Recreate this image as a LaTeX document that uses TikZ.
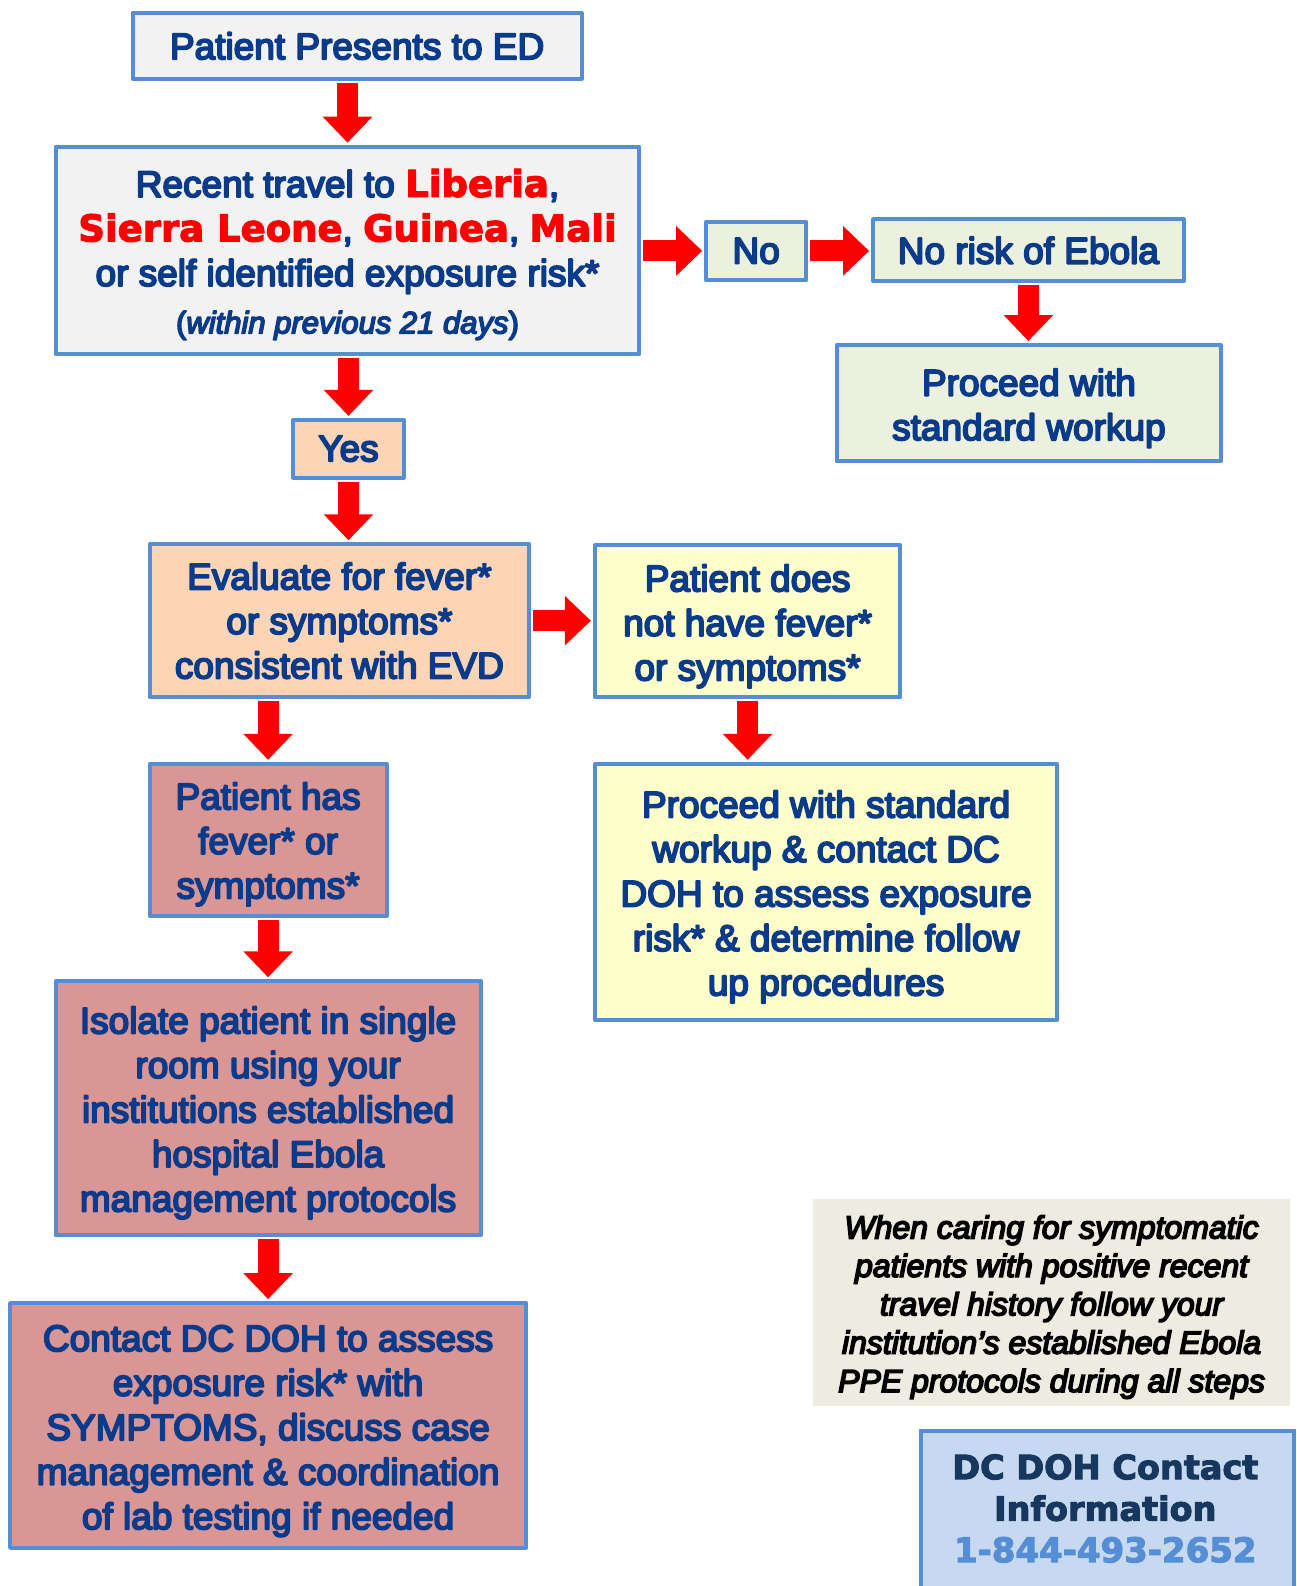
\documentclass[tikz,border=0pt]{standalone}
\usepackage{fontspec}
\usetikzlibrary{arrows.meta}
\setmainfont{Liberation Sans}
\newfontfamily\navyfont[FakeBold=5]{Liberation Sans}
\newfontfamily\navyitfont[FakeBold=5]{Liberation Sans Italic}
\newfontfamily\heavyfont[FakeBold=3]{DejaVu Sans Bold}
\definecolor{bordc}{HTML}{558ED5}
\definecolor{navy}{HTML}{0A3A8A}
\definecolor{grayf}{HTML}{F2F2F2}
\definecolor{greenf}{HTML}{EBF1DE}
\definecolor{peachf}{HTML}{FBD5B5}
\definecolor{yellowf}{HTML}{FFFFCC}
\definecolor{rosef}{HTML}{D99694}
\definecolor{notef}{HTML}{EEECE1}
\definecolor{dcf}{HTML}{C6D9F1}
\definecolor{dctext}{HTML}{17375E}
\newcommand{\redw}[1]{{\color{red}\heavyfont\fontsize{37}{44.5}\selectfont #1}}
\begin{document}
\begin{tikzpicture}[x=1pt,y=-1pt,
  box/.style={draw=bordc, line width=4pt, line join=round, inner sep=0pt, align=center, text=navy,
    font={\navyfont\fontsize{37}{44.5}\selectfont}},
  bigarrow/.style={draw=red, line width=21pt, -{Triangle[width=48pt,length=26pt]},
    shorten <=2pt, shorten >=2pt}]
\useasboundingbox (0,0) rectangle (1297,1586);
\clip (0,0) rectangle (1297,1586);

\node[box, fill=grayf, minimum width=449pt, minimum height=65.7pt] (b1) at (357.1,46) {Patient Presents to ED};
\node[box, fill=grayf, minimum width=583.8pt, minimum height=207.4pt] (b2) at (347.5,250.4)
  {\rule{0pt}{36pt}Recent travel to \redw{Liberia},\\ \redw{Sierra Leone}, \redw{Guinea}, \redw{Mali}\\ or self identified exposure risk*\\[3pt]
   {\fontsize{31}{44.5}\selectfont(\navyitfont within previous 21 days\navyfont)}};
\node[box, fill=greenf, minimum width=100pt, minimum height=58.6pt] (no) at (756.2,250.9) {No};
\node[box, fill=greenf, minimum width=310.6pt, minimum height=61.8pt] (norisk) at (1028.4,250.4) {No risk of Ebola};
\node[box, fill=greenf, minimum width=384.4pt, minimum height=116.3pt] (p1) at (1028.9,403.2) {\rule{0pt}{37pt}Proceed with\\ standard workup};
\node[box, fill=peachf, minimum width=110.3pt, minimum height=57.6pt] (yes) at (348.5,448.7) {Yes};
\node[box, fill=peachf, minimum width=379.4pt, minimum height=152.8pt] (ev) at (339.4,620.7) {Evaluate for fever*\\ or symptoms*\\ consistent with EVD};
\node[box, fill=yellowf, minimum width=305.5pt, minimum height=151.8pt] (pd) at (747.6,621.2) {\rule{0pt}{37pt}Patient does\\ not have fever*\\ or symptoms*};
\node[box, fill=yellowf, minimum width=462.3pt, minimum height=256pt] (p2) at (826.1,891.8)
  {\rule{0pt}{37pt}Proceed with standard\\ workup \& contact DC\\ DOH to assess exposure\\ risk* \& determine follow\\ up procedures};
\node[box, fill=rosef, minimum width=236.8pt, minimum height=151.8pt] (ph) at (268.1,839.7) {\rule{0pt}{36pt}Patient has\\ fever* or\\ symptoms*};
\node[box, fill=rosef, minimum width=425pt, minimum height=254pt] (iso) at (268.1,1108.3)
  {\rule{0pt}{36pt}Isolate patient in single\\ room using your\\ institutions established\\ hospital Ebola\\ management protocols};
\node[box, fill=rosef, minimum width=516pt, minimum height=244.8pt] (ct) at (268.1,1425.5)
  {\rule{0pt}{37pt}Contact DC DOH to assess\\ exposure risk* with\\ SYMPTOMS, discuss case\\ management \& coordination\\ of lab testing if needed};
\node[fill=notef, minimum width=476.5pt, minimum height=207.4pt, inner sep=0pt, align=center,
  font={\navyitfont\fontsize{32}{38.4}\selectfont}] (note) at (1051.6,1302.6)
  {\rule{0pt}{32pt}When caring for symptomatic\\ patients with positive recent\\ travel history follow your\\ institution’s established Ebola\\ PPE protocols during all steps};
\node[draw=bordc, line width=4pt, fill=dcf, minimum width=373.4pt, minimum height=200pt, inner sep=0pt, anchor=north west] (dc) at (918.6,1428.5) {};
\node[align=center, inner sep=0pt, text=dctext, font={\heavyfont\fontsize{33.5}{41.5}\selectfont}] (dctxt) at (1105.3,1508.5)
  {DC DOH Contact\\ Information\\ {\color{bordc}\fontsize{34}{41.5}\selectfont 1-844-493-2652}};

\draw[bigarrow] (b2.north |- b1.south) -- (b2.north);
\draw[bigarrow] (b2.south -| yes.north) -- (yes.north);
\draw[bigarrow] (yes.south) -- (yes.south |- ev.north);
\draw[bigarrow] (b2.east |- no.west) -- (no.west);
\draw[bigarrow] (no.east) -- (no.east -| norisk.west);
\draw[bigarrow] (norisk.south) -- (norisk.south |- p1.north);
\draw[bigarrow] (ev.east) -- (ev.east -| pd.west);
\draw[bigarrow] (pd.south) -- (pd.south |- p2.north);
\draw[bigarrow] (ph.north |- ev.south) -- (ph.north);
\draw[bigarrow] (ph.south) -- (iso.north);
\draw[bigarrow] (iso.south) -- (ct.north);
\end{tikzpicture}
\end{document}
